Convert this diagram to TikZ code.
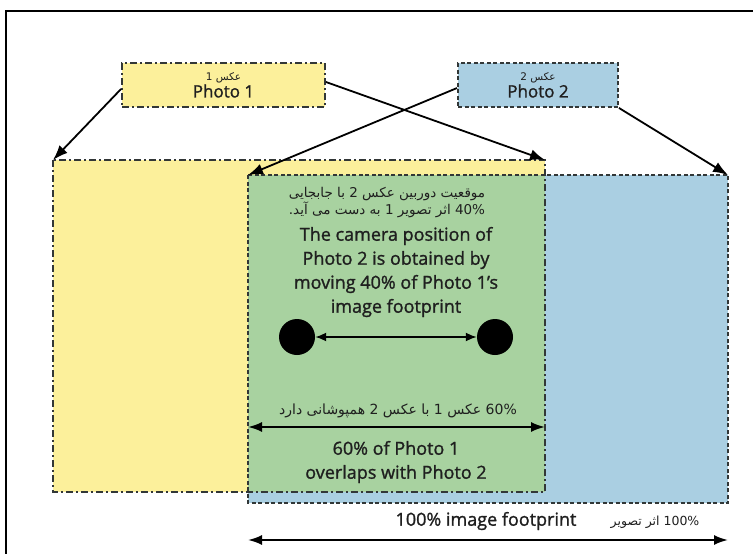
\documentclass[tikz,border=0pt]{standalone}
\usepackage{fontspec}
\setmainfont{Open Sans}[FakeBold=1.3]
\newfontfamily\fafont[Script=Arabic]{DejaVu Sans}
\TeXXeTstate=1
\usetikzlibrary{arrows.meta,calc}
\definecolor{yel}{RGB}{252,240,155}
\definecolor{blu}{RGB}{170,207,226}
\definecolor{grn}{RGB}{168,210,160}
\definecolor{edge}{RGB}{50,55,55}
\begin{document}
\begin{tikzpicture}[x=1pt,y=-1pt,
  dashdot/.style={draw=edge, line width=1.9pt, dash pattern=on 7pt off 3pt on 2pt off 3pt},
  dashline/.style={draw=edge, line width=1.9pt, dash pattern=on 4pt off 2.5pt},
  region/.style={rectangle, inner sep=0pt, outer sep=0pt},
  conn/.style={line width=1.8pt, -{Latex[length=15pt,width=11pt]}},
  dbl/.style={line width=2pt, {Latex[length=14pt,width=10pt]}-{Latex[length=14pt,width=10pt]}},
  en/.style={font=\fontsize{18}{24}\selectfont, text=black!88, align=center, inner sep=0pt},
  fa/.style={font=\fafont\fontsize{13.5}{13.5}\selectfont, text=black!88, align=center, inner sep=0pt},
  photobox/.style={rectangle, inner sep=0pt, minimum width=#1, minimum height=44pt, align=center, text=black!88, font=\fontsize{17}{18}\selectfont}]
\useasboundingbox (0,0) rectangle (753,554);
\draw[line width=2.4pt] (6,554) -- (6,11) -- (753,11);
% footprints
\node[region, fill=yel, minimum width=492pt, minimum height=332pt] (yellow) at (299,326) {};
\node[region, fill=blu, minimum width=480pt, minimum height=328pt] (blue) at (488,339) {};
\node[region, fill=grn, minimum width=297pt, minimum height=317pt] (green) at (396.5,333.5) {};
\draw[dashdot] (yellow.north west) rectangle (yellow.south east);
\draw[dashline] (blue.north west) rectangle (blue.south east);
% photo boxes
\node[photobox=203pt, fill=yel, dashdot] (photo1) at (223.5,85) {\raisebox{2pt}{\fafont\fontsize{10.5}{11}\selectfont\beginR عکس 1\endR}\\[-3pt]Photo 1};
\node[photobox=160pt, fill=blu, dashline] (photo2) at (538,85) {\raisebox{2pt}{\fafont\fontsize{10.5}{11}\selectfont\beginR عکس 2\endR}\\[-3pt]Photo 2};
% connectors
\draw[conn] ($(photo1.west)+(0,4)$) -- (yellow.north west);
\draw[conn] ($(photo1.east)+(0,-3)$) -- (yellow.north east);
\draw[conn] ($(photo2.west)+(0,3)$) -- (green.north west);
\draw[conn] (photo2.south east) -- (blue.north east);
% texts in overlap
\node[fa] (t1) at (387,203) {\beginR موقعیت دوربین عکس 2 با جابجایی\endR\\\beginR\beginL 40\%\endL{} اثر تصویر 1 به دست می آید.\endR};
\node[en] (t2) at (396,272) {The camera position of\\Photo 2 is obtained by\\moving 40\% of Photo 1’s\\image footprint};
% camera dots
\node[circle, fill=black, minimum size=36pt, inner sep=0pt] (d1) at (297,337) {};
\node[circle, fill=black, minimum size=36pt, inner sep=0pt] (d2) at (495,337) {};
\draw[line width=1.8pt, {Latex[length=11pt,width=9pt]}-{Latex[length=11pt,width=9pt]}] (d1) -- (d2);
% overlap
\node[fa, font=\fafont\fontsize{14}{15}\selectfont] (t3) at (398,411) {\beginR\beginL 60\%\endL{} عکس 1 با عکس 2 همپوشانی دارد\endR};
\coordinate (ovL) at (248,427);
\coordinate (ovR) at (545,427);
\draw[dbl] (ovL) -- (ovR);
\node[en] (t4) at (396,462) {60\% of Photo 1\\overlaps with Photo 2};
% full footprint
\node[en] (t5) at (486,521) {100\% image footprint};
\node[fa, font=\fafont\fontsize{12.5}{14}\selectfont] (t6) at (655,522) {\beginR\beginL 100\%\endL{} اثر تصویر\endR};
\coordinate (fpL) at (248,540);
\coordinate (fpR) at (728,540);
\draw[dbl] (fpL) -- (fpR);
\end{tikzpicture}
\end{document}
